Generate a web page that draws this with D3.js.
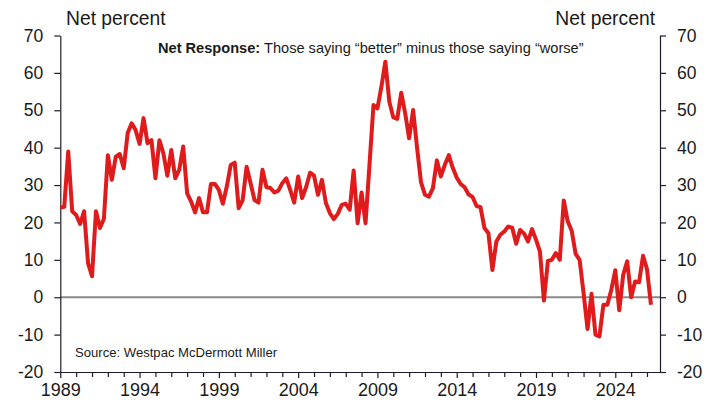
<!DOCTYPE html>
<html>
<head>
<meta charset="utf-8">
<script src="https://cdn.jsdelivr.net/npm/d3@7"></script>
<style>
  body { margin: 0; background: #fff; }
  svg { display: block; font-family: "Liberation Sans", Arial, sans-serif; }
  .axis text { fill: #1a1a1a; font-size: 17.5px; }
  .axis path, .axis line { stroke: #1c1c2c; stroke-width: 1.2; }
</style>
</head>
<body>
<svg width="706" height="404"></svg>
<script>
// quarterly series, first point 1989 Q1
var startYear = 1989;
var netValues = [
    24, 24.2, 39, 23, 22, 19.6, 23, 9.1, 5.6, 23,
    18.5, 21, 38, 31.4, 37.6, 38.3, 34.5, 43.9, 46.5, 44.7,
    41, 47.9, 41.2, 42, 31.8, 42, 38.5, 32.5, 39.4, 31.8,
    34.1, 40.3, 27.8, 25.6, 22.7, 26.5, 22.7, 22.7, 30.3, 30.3,
    28.7, 25, 29.6, 35.4, 36, 23.8, 26, 34.9, 30.5, 26,
    25.3, 34.1, 29.4, 29.2, 28, 28.5, 30.5, 31.8, 28.7, 25.3,
    32.3, 26.5, 29.4, 33.3, 32.5, 27.4, 31.4, 25.2, 22.5, 20.9,
    22.3, 24.7, 25, 23.4, 33.9, 19.8, 28, 19.8, 35.5, 51.4,
    50.5, 56.3, 63, 52.3, 48.1, 47.7, 54.7, 49.2, 42.5, 50.1,
    40, 30.7, 27.4, 26.9, 29.2, 36.6, 32.3, 35.4, 38, 34.6,
    32, 30.3, 29.4, 27.5, 26.8, 24.4, 24.1, 18.5, 17.1, 7.3,
    14.9, 16.7, 17.6, 18.9, 18.6, 14.3, 18, 17, 14.9, 18.2,
    15.4, 12.2, -0.9, 9.7, 10, 11.8, 10, 25.9, 20.3, 17.8,
    11.6, 10, 1.1, -8.5, 0.9, -10, -10.5, -2, -2, 2,
    7.2, -3.5, 6, 9.6, 0, 4.2, 4, 11.1, 7.5, -2
];
var yTicks = [-20, -10, 0, 10, 20, 30, 40, 50, 60, 70];
var yearTicks = d3.range(1989, 2027);
var labelYears = [1989, 1994, 1999, 2004, 2009, 2014, 2019, 2024];
var titleBold = "Net Response:";
var titleRest = " Those saying \u201cbetter\u201d minus those saying \u201cworse\u201d";
var sourceText = "Source: Westpac McDermott Miller";
var axisTitle = "Net percent";

var svg = d3.select("svg");
var plotL = 60.3, plotR = 660, plotT = 35.5, plotB = 372;

var x = d3.scaleLinear().domain([1989, 2026.82]).range([plotL, plotR]);
var y = d3.scaleLinear().domain([-20, 70]).range([plotB, plotT]);

var points = netValues.map(function (v, i) {
    return { t: startYear + i * 0.25, v: v };
});

// plain hyphen for negatives, like the original
var fmt = function (d) { return String(d); };

// zero line
svg.append("line")
    .attr("x1", plotL).attr("x2", plotR)
    .attr("y1", y(0)).attr("y2", y(0))
    .attr("stroke", "#8a8a8a")
    .attr("stroke-width", 2);

// axes
svg.append("g")
    .attr("class", "axis")
    .attr("transform", "translate(" + plotL + ",0)")
    .call(d3.axisLeft(y).tickValues(yTicks).tickSize(6).tickSizeOuter(0).tickPadding(11)
        .tickFormat(fmt));

svg.append("g")
    .attr("class", "axis")
    .attr("transform", "translate(" + plotR + ",0)")
    .call(d3.axisRight(y).tickValues(yTicks).tickSize(6).tickSizeOuter(0).tickPadding(11)
        .tickFormat(fmt));

var xAxis = svg.append("g")
    .attr("class", "axis")
    .attr("transform", "translate(0," + plotB + ")")
    .call(d3.axisBottom(x).tickValues(yearTicks).tickSize(5).tickSizeOuter(0).tickPadding(6)
        .tickFormat(function (d) {
            return labelYears.indexOf(d) >= 0 ? d : "";
        }));
xAxis.selectAll(".tick text").style("font-size", "18px");
xAxis.selectAll(".tick line")
    .attr("y2", function (d) { return labelYears.indexOf(d) >= 0 ? 6 : 5; });

// series
var line = d3.line()
    .x(function (d) { return x(d.t); })
    .y(function (d) { return y(d.v); });

svg.append("path")
    .datum(points)
    .attr("d", line)
    .attr("fill", "none")
    .attr("stroke", "#df1b1b")
    .attr("stroke-width", 4)
    .attr("stroke-linejoin", "round");

// labels
svg.append("text")
    .attr("x", 66).attr("y", 25)
    .attr("font-size", 19.3).attr("fill", "#1a1a1a")
    .text(axisTitle);

svg.append("text")
    .attr("x", 655).attr("y", 25)
    .attr("text-anchor", "end")
    .attr("font-size", 19.3).attr("fill", "#1a1a1a")
    .text(axisTitle);

var title = svg.append("text")
    .attr("x", 158).attr("y", 53)
    .attr("font-size", 14.6).attr("fill", "#1a1a1a");
title.append("tspan").attr("font-weight", "bold").text(titleBold);
title.append("tspan").text(titleRest);

svg.append("text")
    .attr("x", 75).attr("y", 357)
    .attr("font-size", 13.1).attr("fill", "#1a1a1a")
    .text(sourceText);
</script>
</body>
</html>
